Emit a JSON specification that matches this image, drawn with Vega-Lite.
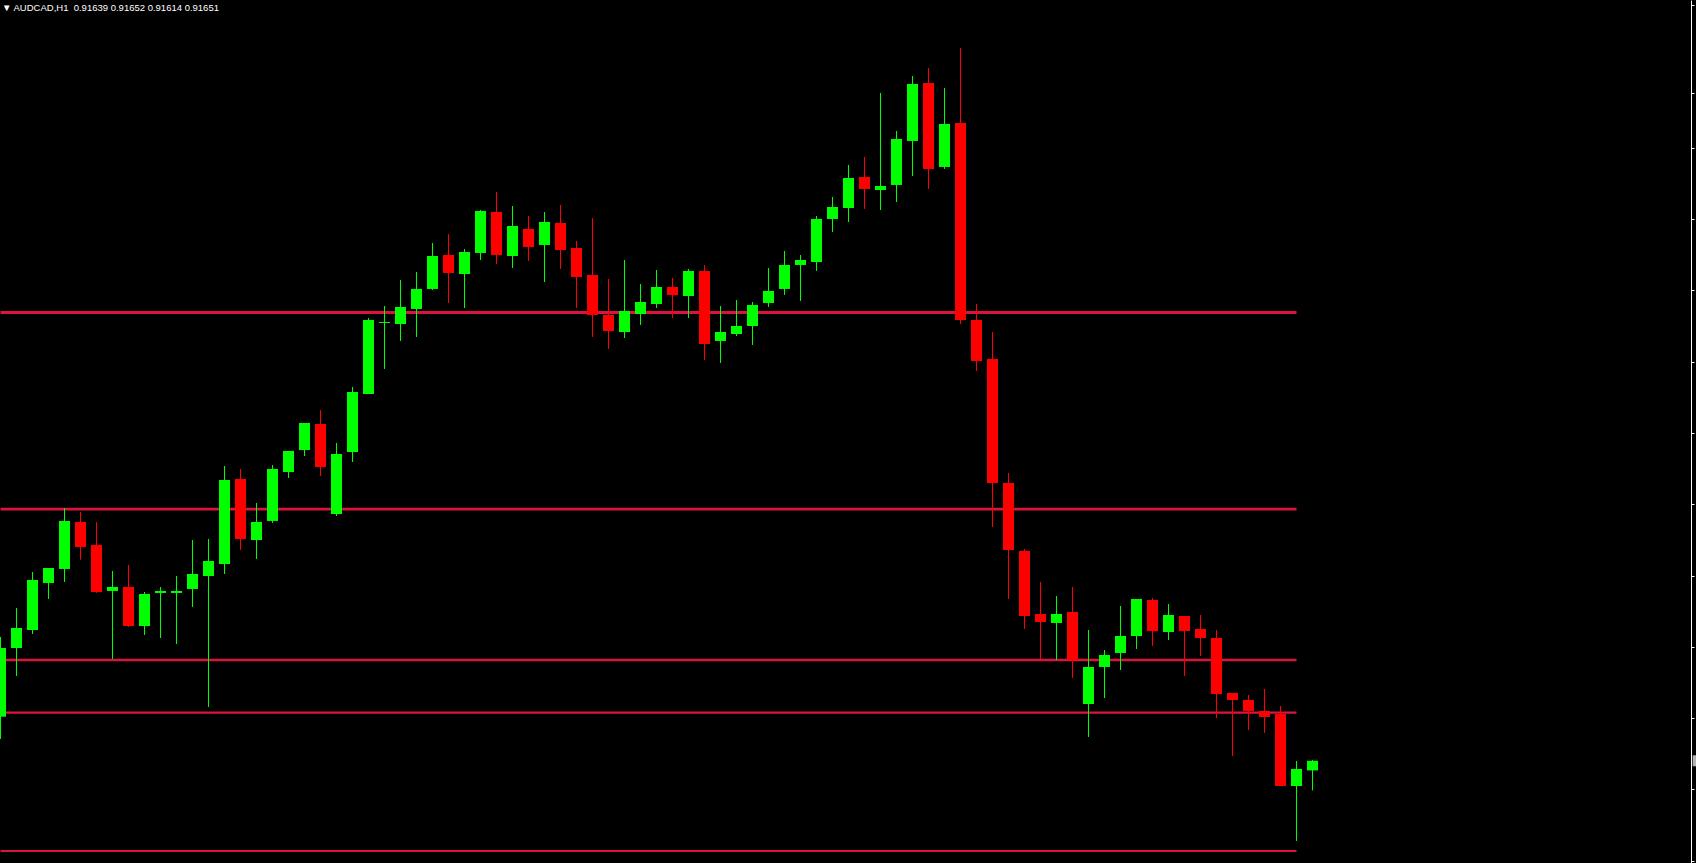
{
  "$schema": "https://vega.github.io/schema/vega-lite/v6.json",
  "width": 1691,
  "height": 863,
  "autosize": {"type": "none"},
  "padding": {"left": 0, "top": 0, "right": 5, "bottom": 0},
  "background": "#000000",
  "config": {
    "view": {"stroke": null},
    "scale": {"continuousPadding": 0},
    "axis": {"grid": false},
    "axisY": {
      "title": null,
      "labels": false,
      "ticks": true,
      "tickSize": 3,
      "tickWidth": 1,
      "tickColor": "#ffffff",
      "domainColor": "#ffffff",
      "domainWidth": 1
    }
  },
  "title": {
    "text": "▼ AUDCAD,H1\u00a0\u00a00.91639 0.91652 0.91614 0.91651",
    "anchor": "start",
    "frame": "group",
    "offset": -20,
    "baseline": "alphabetic",
    "dx": 2,
    "font": "Liberation Sans",
    "fontSize": 9.5,
    "fontWeight": "normal",
    "color": "#ffffff"
  },
  "datasets": {
    "bars": [
      {"i": 0, "open": 0.917061, "high": 0.918058, "low": 0.916783, "close": 0.91792},
      {"i": 1, "open": 0.91792, "high": 0.91842, "low": 0.91757, "close": 0.91817},
      {"i": 2, "open": 0.918145, "high": 0.91887, "low": 0.918095, "close": 0.91877},
      {"i": 3, "open": 0.918733, "high": 0.91892, "low": 0.918533, "close": 0.91892},
      {"i": 4, "open": 0.918908, "high": 0.91967, "low": 0.918745, "close": 0.919508},
      {"i": 5, "open": 0.919495, "high": 0.91962, "low": 0.919024, "close": 0.919183},
      {"i": 6, "open": 0.919208, "high": 0.919495, "low": 0.918608, "close": 0.91862},
      {"i": 7, "open": 0.918633, "high": 0.918883, "low": 0.917783, "close": 0.918683},
      {"i": 8, "open": 0.918683, "high": 0.918958, "low": 0.918183, "close": 0.918195},
      {"i": 9, "open": 0.918195, "high": 0.91862, "low": 0.918083, "close": 0.918595},
      {"i": 10, "open": 0.918608, "high": 0.918683, "low": 0.918045, "close": 0.918633},
      {"i": 11, "open": 0.918608, "high": 0.91882, "low": 0.91797, "close": 0.918633},
      {"i": 12, "open": 0.918658, "high": 0.91927, "low": 0.918433, "close": 0.918845},
      {"i": 13, "open": 0.91882, "high": 0.919283, "low": 0.917183, "close": 0.919008},
      {"i": 14, "open": 0.91897, "high": 0.920195, "low": 0.918845, "close": 0.92002},
      {"i": 15, "open": 0.920033, "high": 0.920158, "low": 0.919145, "close": 0.919283},
      {"i": 16, "open": 0.91927, "high": 0.919733, "low": 0.919033, "close": 0.919495},
      {"i": 17, "open": 0.919508, "high": 0.920208, "low": 0.919483, "close": 0.920158},
      {"i": 18, "open": 0.92012, "high": 0.920383, "low": 0.920045, "close": 0.920383},
      {"i": 19, "open": 0.920395, "high": 0.920733, "low": 0.92032, "close": 0.920733},
      {"i": 20, "open": 0.92072, "high": 0.920895, "low": 0.92007, "close": 0.920183},
      {"i": 21, "open": 0.919595, "high": 0.920483, "low": 0.91957, "close": 0.920345},
      {"i": 22, "open": 0.92037, "high": 0.921183, "low": 0.920245, "close": 0.92112},
      {"i": 23, "open": 0.921095, "high": 0.922045, "low": 0.921095, "close": 0.92202},
      {"i": 24, "open": 0.921983, "high": 0.922195, "low": 0.921408, "close": 0.921995},
      {"i": 25, "open": 0.92197, "high": 0.92252, "low": 0.921758, "close": 0.922183},
      {"i": 26, "open": 0.922158, "high": 0.92262, "low": 0.921808, "close": 0.922408},
      {"i": 27, "open": 0.922408, "high": 0.922983, "low": 0.922395, "close": 0.92282},
      {"i": 28, "open": 0.922833, "high": 0.923095, "low": 0.922233, "close": 0.922608},
      {"i": 29, "open": 0.922595, "high": 0.922908, "low": 0.92217, "close": 0.92287},
      {"i": 30, "open": 0.922858, "high": 0.923395, "low": 0.92277, "close": 0.923383},
      {"i": 31, "open": 0.92337, "high": 0.92362, "low": 0.92272, "close": 0.922833},
      {"i": 32, "open": 0.92282, "high": 0.923445, "low": 0.92267, "close": 0.923195},
      {"i": 33, "open": 0.923158, "high": 0.92332, "low": 0.922758, "close": 0.922933},
      {"i": 34, "open": 0.922958, "high": 0.92337, "low": 0.922495, "close": 0.923245},
      {"i": 35, "open": 0.923233, "high": 0.923458, "low": 0.922658, "close": 0.922895},
      {"i": 36, "open": 0.92292, "high": 0.923008, "low": 0.92217, "close": 0.922558},
      {"i": 37, "open": 0.922583, "high": 0.923295, "low": 0.921808, "close": 0.922083},
      {"i": 38, "open": 0.922083, "high": 0.922533, "low": 0.921658, "close": 0.921883},
      {"i": 39, "open": 0.92187, "high": 0.92277, "low": 0.921795, "close": 0.922133},
      {"i": 40, "open": 0.922095, "high": 0.92247, "low": 0.921958, "close": 0.922245},
      {"i": 41, "open": 0.92222, "high": 0.922645, "low": 0.92217, "close": 0.922433},
      {"i": 42, "open": 0.922433, "high": 0.922545, "low": 0.922045, "close": 0.922333},
      {"i": 43, "open": 0.92232, "high": 0.922658, "low": 0.922045, "close": 0.922633},
      {"i": 44, "open": 0.922633, "high": 0.922708, "low": 0.92152, "close": 0.92172},
      {"i": 45, "open": 0.921758, "high": 0.922195, "low": 0.921483, "close": 0.92187},
      {"i": 46, "open": 0.921845, "high": 0.92227, "low": 0.92182, "close": 0.921945},
      {"i": 47, "open": 0.921945, "high": 0.922245, "low": 0.921708, "close": 0.922208},
      {"i": 48, "open": 0.922233, "high": 0.92267, "low": 0.922183, "close": 0.922383},
      {"i": 49, "open": 0.922408, "high": 0.922883, "low": 0.922333, "close": 0.922708},
      {"i": 50, "open": 0.922708, "high": 0.922833, "low": 0.922258, "close": 0.92277},
      {"i": 51, "open": 0.922745, "high": 0.92332, "low": 0.922633, "close": 0.923283},
      {"i": 52, "open": 0.923283, "high": 0.923558, "low": 0.92312, "close": 0.923433},
      {"i": 53, "open": 0.92342, "high": 0.923958, "low": 0.923245, "close": 0.923795},
      {"i": 54, "open": 0.923808, "high": 0.924058, "low": 0.923408, "close": 0.923658},
      {"i": 55, "open": 0.923645, "high": 0.924858, "low": 0.923395, "close": 0.923695},
      {"i": 56, "open": 0.923708, "high": 0.924383, "low": 0.923495, "close": 0.924283},
      {"i": 57, "open": 0.924258, "high": 0.92507, "low": 0.92382, "close": 0.92497},
      {"i": 58, "open": 0.924983, "high": 0.92517, "low": 0.923658, "close": 0.923908},
      {"i": 59, "open": 0.923933, "high": 0.92492, "low": 0.923908, "close": 0.92447},
      {"i": 60, "open": 0.924483, "high": 0.92542, "low": 0.92197, "close": 0.92202},
      {"i": 61, "open": 0.92202, "high": 0.92222, "low": 0.921383, "close": 0.921508},
      {"i": 62, "open": 0.921533, "high": 0.92187, "low": 0.919433, "close": 0.919983},
      {"i": 63, "open": 0.919983, "high": 0.920108, "low": 0.918533, "close": 0.919145},
      {"i": 64, "open": 0.919133, "high": 0.919158, "low": 0.918158, "close": 0.91832},
      {"i": 65, "open": 0.918345, "high": 0.918745, "low": 0.917783, "close": 0.918245},
      {"i": 66, "open": 0.918233, "high": 0.91857, "low": 0.91777, "close": 0.918345},
      {"i": 67, "open": 0.91837, "high": 0.918683, "low": 0.917545, "close": 0.91777},
      {"i": 68, "open": 0.91722, "high": 0.918145, "low": 0.916808, "close": 0.917683},
      {"i": 69, "open": 0.917683, "high": 0.917895, "low": 0.917295, "close": 0.917833},
      {"i": 70, "open": 0.917858, "high": 0.918445, "low": 0.917645, "close": 0.91807},
      {"i": 71, "open": 0.91807, "high": 0.918533, "low": 0.917908, "close": 0.918533},
      {"i": 72, "open": 0.91852, "high": 0.918545, "low": 0.917945, "close": 0.918133},
      {"i": 73, "open": 0.91812, "high": 0.91847, "low": 0.91802, "close": 0.918333},
      {"i": 74, "open": 0.91832, "high": 0.91832, "low": 0.91757, "close": 0.918133},
      {"i": 75, "open": 0.918158, "high": 0.918333, "low": 0.91782, "close": 0.918045},
      {"i": 76, "open": 0.918045, "high": 0.918145, "low": 0.917045, "close": 0.917345},
      {"i": 77, "open": 0.917358, "high": 0.917358, "low": 0.91657, "close": 0.91727},
      {"i": 78, "open": 0.91727, "high": 0.917333, "low": 0.916895, "close": 0.917133},
      {"i": 79, "open": 0.917133, "high": 0.917408, "low": 0.916858, "close": 0.917058},
      {"i": 80, "open": 0.917095, "high": 0.917195, "low": 0.916195, "close": 0.916195},
      {"i": 81, "open": 0.916195, "high": 0.916508, "low": 0.915508, "close": 0.916408},
      {"i": 82, "open": 0.91639, "high": 0.91652, "low": 0.91614, "close": 0.91651}
    ],
    "levels": [
      {"level": "L1", "price": 0.92211375, "start": 0, "end": 81},
      {"level": "L2", "price": 0.9196575, "start": 0, "end": 81},
      {"level": "L3", "price": 0.91777, "start": 0, "end": 81},
      {"level": "L4", "price": 0.91711375, "start": 0, "end": 81},
      {"level": "L5", "price": 0.9153825, "start": 0, "end": 81}
    ]
  },
  "layer": [
    {
      "data": {"name": "levels"},
      "mark": {"type": "rule", "color": "#dc143c", "clip": true},
      "encoding": {
        "x": {"field": "start", "type": "quantitative", "scale": {"domain": [-0.03125, 105.65625], "nice": false, "zero": false, "padding": 0}, "axis": null},
        "x2": {"field": "end"},
        "y": {
          "field": "price",
          "type": "quantitative",
          "scale": {"domain": [0.9152325, 0.92602], "nice": false, "zero": false, "padding": 0},
          "axis": {
            "orient": "right",
            "values": [0.9259575, 0.9254075, 0.9248575, 0.92462, 0.92417, 0.92372, 0.9232825, 0.9228325, 0.922395, 0.921945, 0.921495, 0.9210575, 0.9206075, 0.9201575, 0.91972, 0.91927, 0.91882, 0.9183825, 0.9179325, 0.917495, 0.917045, 0.916595, 0.9161575, 0.9157075, 0.9152575]
          }
        },
        "strokeWidth": {"field": "level", "type": "nominal", "scale": {"domain": ["L1", "L2", "L3", "L4", "L5"], "range": [3, 2, 2, 3, 4]}, "legend": null}
      }
    },
    {
      "data": {"name": "bars"},
      "mark": {"type": "rule", "strokeWidth": 1},
      "encoding": {
        "x": {"field": "i", "type": "quantitative", "axis": null},
        "y": {"field": "low", "type": "quantitative"},
        "y2": {"field": "high"},
        "color": {"condition": {"test": "datum.open > datum.close", "value": "#ff0000"}, "value": "#00ff00"}
      }
    },
    {
      "data": {"name": "bars"},
      "mark": {"type": "bar", "size": 11},
      "encoding": {
        "x": {"field": "i", "type": "quantitative", "axis": null},
        "y": {"field": "open", "type": "quantitative"},
        "y2": {"field": "close"},
        "color": {"condition": {"test": "datum.open > datum.close", "value": "#ff0000"}, "value": "#00ff00"}
      }
    },
    {
      "data": {"name": "bars"},
      "transform": [{"filter": "datum.i == 82"}],
      "mark": {"type": "tick", "orient": "vertical", "size": 11, "thickness": 3.4, "color": "#ffffff", "clip": false},
      "encoding": {
        "x": {"datum": 105.866, "type": "quantitative"},
        "y": {"field": "close", "type": "quantitative"}
      }
    }
  ]
}
